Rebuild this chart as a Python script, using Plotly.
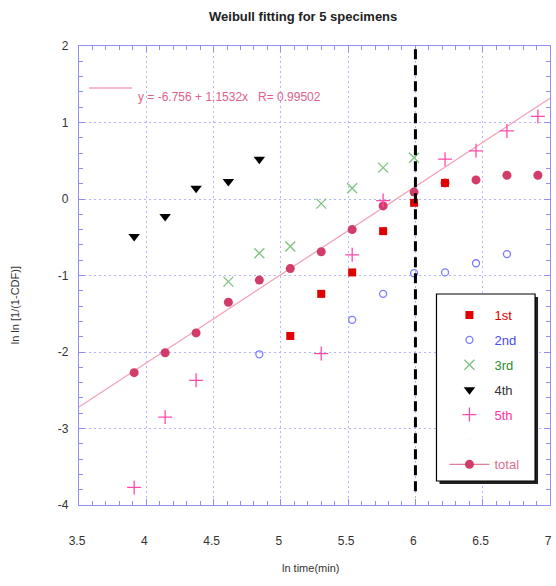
import plotly.graph_objects as go

# ---- data ----
s1_x = [5.07, 5.30, 5.53, 5.76, 5.99, 6.22]
s1_y = [-1.79, -1.24, -0.96, -0.42, -0.05, 0.21]
s2_x = [4.84, 5.53, 5.76, 5.99, 6.22, 6.45, 6.68]
s2_y = [-2.03, -1.58, -1.24, -0.97, -0.96, -0.84, -0.72]
s3_x = [4.61, 4.84, 5.07, 5.30, 5.53, 5.76, 5.99]
s3_y = [-1.08, -0.71, -0.62, -0.06, 0.14, 0.41, 0.54]
s4_x = [3.91, 4.14, 4.37, 4.61, 4.84]
s4_y = [-0.49, -0.23, 0.14, 0.23, 0.52]
s5_x = [3.91, 4.14, 4.37, 5.30, 5.53, 5.76, 6.22, 6.45, 6.68, 6.91]
s5_y = [-3.77, -2.85, -2.37, -2.02, -0.73, -0.02, 0.52, 0.63, 0.89, 1.08]
total_x = [3.91, 4.14, 4.37, 4.61, 4.84, 5.07, 5.30, 5.53, 5.76, 5.99, 6.22, 6.45, 6.68, 6.91]
total_y = [-2.27, -2.01, -1.75, -1.35, -1.06, -0.91, -0.69, -0.40, -0.09, 0.09, 0.21, 0.25, 0.31, 0.31]
fit_a = -6.756
fit_b = 1.1532
fit_r = 0.99502
x_range = [3.5, 7]
y_range = [-4, 2]
x_ticks = [3.5, 4, 4.5, 5, 5.5, 6, 6.5, 7]
x_ticktext = ["3.5", "4", "4.5", "5", "5.5", "6", "6.5", "7"]
y_ticks = [-4, -3, -2, -1, 0, 1, 2]
y_ticktext = ["-4", "-3", "-2", "-1", "0", "1", "2"]
cutoff_x = 6.0

W, H = 556, 586
ML, MR, MT, MB = 79, 4, 46, 81
PW = W - ML - MR
PH = H - MT - MB

def px(xp):
    return (xp - ML) / PW

def py(yp):
    return (H - MB - yp) / PH

FONT = "Liberation Sans, Arial, Helvetica, sans-serif"
FRAME = "#8f8ff5"
GRID = "#b4b4ff"

C1, C2, C3, C4, C5 = "#e00000", "#7a7aff", "#7fc27f", "#000000", "#ff4aa8"
CT, CFIT = "#d23c68", "#f3a3b8"

fig = go.Figure()

fit_x = list(x_range)
fit_y = [fit_a + fit_b * v for v in fit_x]
fig.add_trace(go.Scatter(x=fit_x, y=fit_y, mode="lines",
                         line=dict(color=CFIT, width=1.3), showlegend=False, hoverinfo="skip"))
fig.add_trace(go.Scatter(x=total_x, y=total_y, mode="markers",
                         marker=dict(symbol="circle", size=9, color=CT), showlegend=False))

def span(t, c):
    return f'<span style="color:{c}">{t}</span>'

fig.add_trace(go.Scatter(x=s1_x, y=s1_y, mode="markers", name=span("1st", "#e00000"), legendgroup="g1",
                         marker=dict(symbol="square", size=8, color=C1)))
fig.add_trace(go.Scatter(x=s2_x, y=s2_y, mode="markers", name=span("2nd", "#4a4af0"), legendgroup="g2",
                         marker=dict(symbol="circle-open", size=7, color=C2, line=dict(width=1.3))))
fig.add_trace(go.Scatter(x=s3_x, y=s3_y, mode="markers", name=span("3rd", "#2f8a2f"), legendgroup="g3",
                         marker=dict(symbol="x-thin", size=10, color=C3, line=dict(width=1.3, color=C3))))
fig.add_trace(go.Scatter(x=s4_x, y=s4_y, mode="markers", name=span("4th", "#333333"), legendgroup="g4",
                         marker=dict(symbol="triangle-down", size=10, color=C4)))
fig.add_trace(go.Scatter(x=s5_x, y=s5_y, mode="markers", name=span("5th", "#ff33a8"), legendgroup="g5",
                         marker=dict(symbol="cross-thin", size=10, color=C5, line=dict(width=1.3, color=C5))))
# spacer entry and legend entry for total
fig.add_trace(go.Scatter(x=[None], y=[None], mode="markers", name=" ", legendgroup="g6",
                         marker=dict(size=1, opacity=0), hoverinfo="skip"))
fig.add_trace(go.Scatter(x=[None], y=[None], mode="lines+markers", name=span("total", "#d8708f"),
                         legendgroup="g7",
                         line=dict(color="#e57c9a", width=1.3),
                         marker=dict(symbol="circle", size=9, color=CT)))

shapes = [
    dict(type="line", xref="x", yref="y", x0=cutoff_x, x1=cutoff_x, y0=-3.82, y1=1.97,
         line=dict(color="black", width=3, dash="10px,6px"), layer="above"),
    dict(type="rect", xref="paper", yref="paper", x0=px(441), x1=px(540), y0=py(484), y1=py(297),
         fillcolor="#222222", line=dict(width=0), layer="above"),
    dict(type="rect", xref="paper", yref="paper", x0=px(438), x1=px(537), y0=py(481), y1=py(294),
         fillcolor="white", line=dict(color="black", width=1.2), layer="above"),
    dict(type="line", xref="paper", yref="paper", x0=px(89), x1=px(132), y0=py(88), y1=py(88),
         line=dict(color=CFIT, width=1.3), layer="above"),
]

annotations = [
    dict(text="<b>Weibull fitting for 5 specimens</b>", xref="paper", yref="paper",
         x=px(304), y=py(17), showarrow=False, font=dict(family=FONT, size=13, color="#222"),
         xanchor="center", yanchor="middle"),
    dict(text=f"y = {fit_a} + {fit_b}x   R= {fit_r}", xref="paper", yref="paper",
         x=px(136), y=py(97), showarrow=False, font=dict(family=FONT, size=12, color="#e0608a"),
         xanchor="left", yanchor="middle"),
    dict(text="ln time(min)", xref="paper", yref="paper", x=px(311), y=py(568), showarrow=False,
         font=dict(family=FONT, size=11, color="#333"), xanchor="center", yanchor="middle"),
    dict(text="ln ln [1/(1-CDF)]", xref="paper", yref="paper", x=px(15), y=py(305), showarrow=False,
         textangle=-90, font=dict(family=FONT, size=11, color="#333"), xanchor="center", yanchor="middle"),
]

axis_common = dict(
    showline=True, linecolor=FRAME, linewidth=1.2, mirror="allticks",
    ticks="inside", ticklen=6, tickcolor=FRAME, tickwidth=1,
    showgrid=True, gridcolor=GRID, griddash="2px,3px", gridwidth=1,
    zeroline=False, tickfont=dict(family=FONT, size=12, color="#333"),
)

fig.update_xaxes(range=x_range, tickmode="array", tickvals=x_ticks, ticktext=x_ticktext,
                 ticklabelstandoff=24, ticklabelshift=-2,
                 minor=dict(dtick=0.1, tick0=3.5, ticks="inside", ticklen=4, tickcolor=FRAME, showgrid=False),
                 **axis_common)
fig.update_yaxes(range=y_range, tickmode="array", tickvals=y_ticks, ticktext=y_ticktext,
                 ticklabelstandoff=7,
                 minor=dict(dtick=0.2, tick0=0, ticks="inside", ticklen=4, tickcolor=FRAME, showgrid=False),
                 **axis_common)

fig.update_layout(
    width=W, height=H,
    margin=dict(l=ML, r=MR, t=MT, b=MB),
    paper_bgcolor="white", plot_bgcolor="white",
    shapes=shapes, annotations=annotations,
    showlegend=True,
    legend=dict(x=px(446), y=py(300), xanchor="left", yanchor="top",
                bgcolor="rgba(0,0,0,0)", borderwidth=0, itemwidth=40,
                tracegroupgap=5, traceorder="grouped",
                font=dict(family=FONT, size=13, color="#333")),
    font=dict(family=FONT),
)

fig.write_html("out.html", config={"displayModeBar": False},
               post_script="document.body.style.margin='0';document.body.style.padding='0';")
